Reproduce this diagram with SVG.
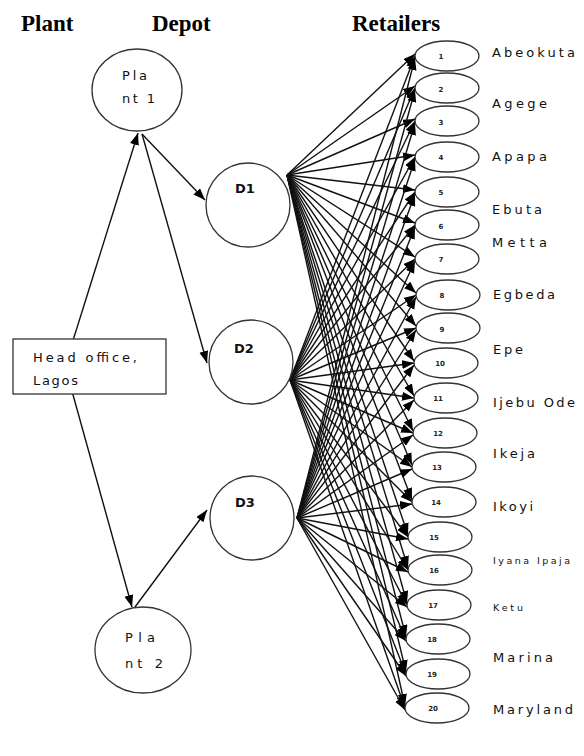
<svg xmlns="http://www.w3.org/2000/svg" width="584" height="756" viewBox="0 0 584 756">
<style>
.title{font-family:"Liberation Serif",serif;font-weight:bold;font-size:23px;fill:#000}
.lbl{font-family:"DejaVu Sans","Liberation Sans",sans-serif;font-size:13px;fill:#111}
.sm{font-family:"DejaVu Sans","Liberation Sans",sans-serif;font-size:9.5px;fill:#111}
.num{font-family:"DejaVu Sans","Liberation Sans",sans-serif;font-size:7px;font-weight:bold;fill:#222;text-anchor:middle}
.node{fill:#fff;stroke:#333;stroke-width:1.3}
.c line{stroke:#111;stroke-width:1.4;marker-end:url(#ah)}
</style>
<defs>
<marker id="ah" markerUnits="userSpaceOnUse" markerWidth="13" markerHeight="10" refX="12" refY="4.5" orient="auto">
<path d="M0,0 L12,4.5 L0,9 Z" fill="#000"/>
</marker>
</defs>
<rect width="584" height="756" fill="#fff"/>
<text class="title" x="21" y="31">Plant</text>
<text class="title" x="152" y="31">Depot</text>
<text class="title" x="352" y="31">Retailers</text>

<g id="connectors" class="c">
<line x1="65" y1="366" x2="138" y2="133"/>
<line x1="65" y1="366" x2="132" y2="607"/>
<line x1="142" y1="134" x2="205" y2="200"/>
<line x1="142" y1="134" x2="207" y2="363"/>
<line x1="135" y1="607" x2="207" y2="510"/>

<line x1="287" y1="175" x2="415" y2="54"/>
<line x1="287" y1="175" x2="415" y2="86"/>
<line x1="287" y1="175" x2="415" y2="119"/>
<line x1="287" y1="175" x2="415" y2="155"/>
<line x1="287" y1="175" x2="415" y2="190"/>
<line x1="287" y1="175" x2="415" y2="223"/>
<line x1="287" y1="175" x2="415" y2="257"/>
<line x1="287" y1="175" x2="416" y2="293"/>
<line x1="287" y1="175" x2="416" y2="326"/>
<line x1="287" y1="175" x2="414" y2="361"/>
<line x1="287" y1="175" x2="414" y2="396"/>
<line x1="287" y1="175" x2="413" y2="431"/>
<line x1="287" y1="175" x2="412" y2="465"/>
<line x1="287" y1="175" x2="412" y2="500"/>
<line x1="287" y1="175" x2="408" y2="535"/>
<line x1="287" y1="175" x2="408" y2="568"/>
<line x1="287" y1="175" x2="407" y2="603"/>
<line x1="287" y1="175" x2="406" y2="637"/>
<line x1="287" y1="175" x2="406" y2="672"/>
<line x1="287" y1="175" x2="405" y2="706"/>

<line x1="290" y1="380" x2="415" y2="56"/>
<line x1="290" y1="380" x2="415" y2="88"/>
<line x1="290" y1="380" x2="415" y2="121"/>
<line x1="290" y1="380" x2="415" y2="157"/>
<line x1="290" y1="380" x2="415" y2="192"/>
<line x1="290" y1="380" x2="415" y2="225"/>
<line x1="290" y1="380" x2="415" y2="259"/>
<line x1="290" y1="380" x2="416" y2="295"/>
<line x1="290" y1="380" x2="416" y2="328"/>
<line x1="290" y1="380" x2="414" y2="363"/>
<line x1="290" y1="380" x2="414" y2="398"/>
<line x1="290" y1="380" x2="413" y2="433"/>
<line x1="290" y1="380" x2="412" y2="467"/>
<line x1="290" y1="380" x2="412" y2="502"/>
<line x1="290" y1="380" x2="408" y2="537"/>
<line x1="290" y1="380" x2="408" y2="570"/>
<line x1="290" y1="380" x2="407" y2="605"/>
<line x1="290" y1="380" x2="406" y2="639"/>
<line x1="290" y1="380" x2="406" y2="674"/>
<line x1="290" y1="380" x2="405" y2="708"/>

<line x1="297" y1="518" x2="415" y2="58"/>
<line x1="297" y1="518" x2="415" y2="90"/>
<line x1="297" y1="518" x2="415" y2="123"/>
<line x1="297" y1="518" x2="415" y2="159"/>
<line x1="297" y1="518" x2="415" y2="194"/>
<line x1="297" y1="518" x2="415" y2="227"/>
<line x1="297" y1="518" x2="415" y2="261"/>
<line x1="297" y1="518" x2="416" y2="297"/>
<line x1="297" y1="518" x2="416" y2="330"/>
<line x1="297" y1="518" x2="414" y2="365"/>
<line x1="297" y1="518" x2="414" y2="400"/>
<line x1="297" y1="518" x2="413" y2="435"/>
<line x1="297" y1="518" x2="412" y2="469"/>
<line x1="297" y1="518" x2="412" y2="504"/>
<line x1="297" y1="518" x2="408" y2="539"/>
<line x1="297" y1="518" x2="408" y2="572"/>
<line x1="297" y1="518" x2="407" y2="607"/>
<line x1="297" y1="518" x2="406" y2="641"/>
<line x1="297" y1="518" x2="406" y2="676"/>
<line x1="297" y1="518" x2="405" y2="710"/>
</g>

<g id="head-office">
<rect class="node" x="13" y="339" width="153" height="55"/>
<text class="lbl" x="33" y="362" textLength="104" lengthAdjust="spacing">Head office,</text>
<text class="lbl" x="33" y="385" textLength="45" lengthAdjust="spacing">Lagos</text>
</g>
<g id="plant1">
<ellipse class="node" cx="137" cy="90" rx="45" ry="41"/>
<text class="lbl" x="122" y="80" font-size="12" textLength="25" lengthAdjust="spacing">Pla</text>
<text class="lbl" x="122" y="103" font-size="12" textLength="33" lengthAdjust="spacing">nt 1</text>
</g>
<g id="plant2">
<ellipse class="node" cx="143" cy="650" rx="48" ry="43"/>
<text class="lbl" x="125" y="642" textLength="30" lengthAdjust="spacing">Pla</text>
<text class="lbl" x="125" y="668" textLength="38" lengthAdjust="spacing">nt 2</text>
</g>
<g id="d1">
<circle class="node" cx="248" cy="205" r="42"/>
<text class="lbl" x="235" y="193" font-size="11" font-weight="bold">D1</text>
</g>
<g id="d2">
<circle class="node" cx="251" cy="362" r="42"/>
<text class="lbl" x="234" y="353" font-size="11" font-weight="bold">D2</text>
</g>
<g id="d3">
<circle class="node" cx="252" cy="518" r="42"/>
<text class="lbl" x="235" y="507" font-size="11" font-weight="bold">D3</text>
</g>

<g id="r1"><ellipse class="node" cx="447" cy="56" rx="32" ry="15"/><text class="num" x="441" y="59">1</text></g>
<g id="r2"><ellipse class="node" cx="447" cy="88" rx="32" ry="15"/><text class="num" x="441" y="92">2</text></g>
<g id="r3"><ellipse class="node" cx="447" cy="121" rx="32" ry="15"/><text class="num" x="441" y="125">3</text></g>
<g id="r4"><ellipse class="node" cx="447" cy="157" rx="32" ry="15"/><text class="num" x="441" y="160">4</text></g>
<g id="r5"><ellipse class="node" cx="447" cy="192" rx="32" ry="15"/><text class="num" x="441" y="195">5</text></g>
<g id="r6"><ellipse class="node" cx="447" cy="225" rx="32" ry="15"/><text class="num" x="441" y="229">6</text></g>
<g id="r7"><ellipse class="node" cx="447" cy="259" rx="32" ry="15"/><text class="num" x="441" y="262">7</text></g>
<g id="r8"><ellipse class="node" cx="448" cy="295" rx="32" ry="15"/><text class="num" x="442" y="298">8</text></g>
<g id="r9"><ellipse class="node" cx="448" cy="328" rx="32" ry="15"/><text class="num" x="442" y="332">9</text></g>
<g id="r10"><ellipse class="node" cx="446" cy="363" rx="32" ry="15"/><text class="num" x="440" y="366">10</text></g>
<g id="r11"><ellipse class="node" cx="446" cy="398" rx="32" ry="15"/><text class="num" x="438" y="401">11</text></g>
<g id="r12"><ellipse class="node" cx="445" cy="433" rx="32" ry="15"/><text class="num" x="438" y="436">12</text></g>
<g id="r13"><ellipse class="node" cx="444" cy="467" rx="32" ry="15"/><text class="num" x="437" y="470">13</text></g>
<g id="r14"><ellipse class="node" cx="444" cy="502" rx="32" ry="15"/><text class="num" x="436" y="505">14</text></g>
<g id="r15"><ellipse class="node" cx="440" cy="537" rx="32" ry="15"/><text class="num" x="434" y="540">15</text></g>
<g id="r16"><ellipse class="node" cx="440" cy="570" rx="32" ry="15"/><text class="num" x="434" y="573">16</text></g>
<g id="r17"><ellipse class="node" cx="439" cy="605" rx="32" ry="15"/><text class="num" x="433" y="608">17</text></g>
<g id="r18"><ellipse class="node" cx="438" cy="639" rx="32" ry="15"/><text class="num" x="432" y="642">18</text></g>
<g id="r19"><ellipse class="node" cx="438" cy="674" rx="32" ry="15"/><text class="num" x="432" y="677">19</text></g>
<g id="r20"><ellipse class="node" cx="437" cy="708" rx="32" ry="15"/><text class="num" x="433" y="711">20</text></g>

<g id="labels">
<text class="lbl" x="492" y="57" textLength="83" lengthAdjust="spacing">Abeokuta</text>
<text class="lbl" x="492" y="108" textLength="55" lengthAdjust="spacing">Agege</text>
<text class="lbl" x="492" y="161" textLength="55" lengthAdjust="spacing">Apapa</text>
<text class="lbl" x="492" y="214" textLength="50" lengthAdjust="spacing">Ebuta</text>
<text class="lbl" x="492" y="247" textLength="55" lengthAdjust="spacing">Metta</text>
<text class="lbl" x="493" y="299" textLength="62" lengthAdjust="spacing">Egbeda</text>
<text class="lbl" x="493" y="354" textLength="30" lengthAdjust="spacing">Epe</text>
<text class="lbl" x="493" y="407" textLength="82" lengthAdjust="spacing">Ijebu Ode</text>
<text class="lbl" x="493" y="458" textLength="42" lengthAdjust="spacing">Ikeja</text>
<text class="lbl" x="493" y="511" textLength="40" lengthAdjust="spacing">Ikoyi</text>
<text class="sm" x="493" y="564" textLength="77" lengthAdjust="spacing">Iyana Ipaja</text>
<text class="sm" x="493" y="611" textLength="30" lengthAdjust="spacing">Ketu</text>
<text class="lbl" x="493" y="662" textLength="60" lengthAdjust="spacing">Marina</text>
<text class="lbl" x="493" y="714" textLength="80" lengthAdjust="spacing">Maryland</text>
</g>
</svg>
